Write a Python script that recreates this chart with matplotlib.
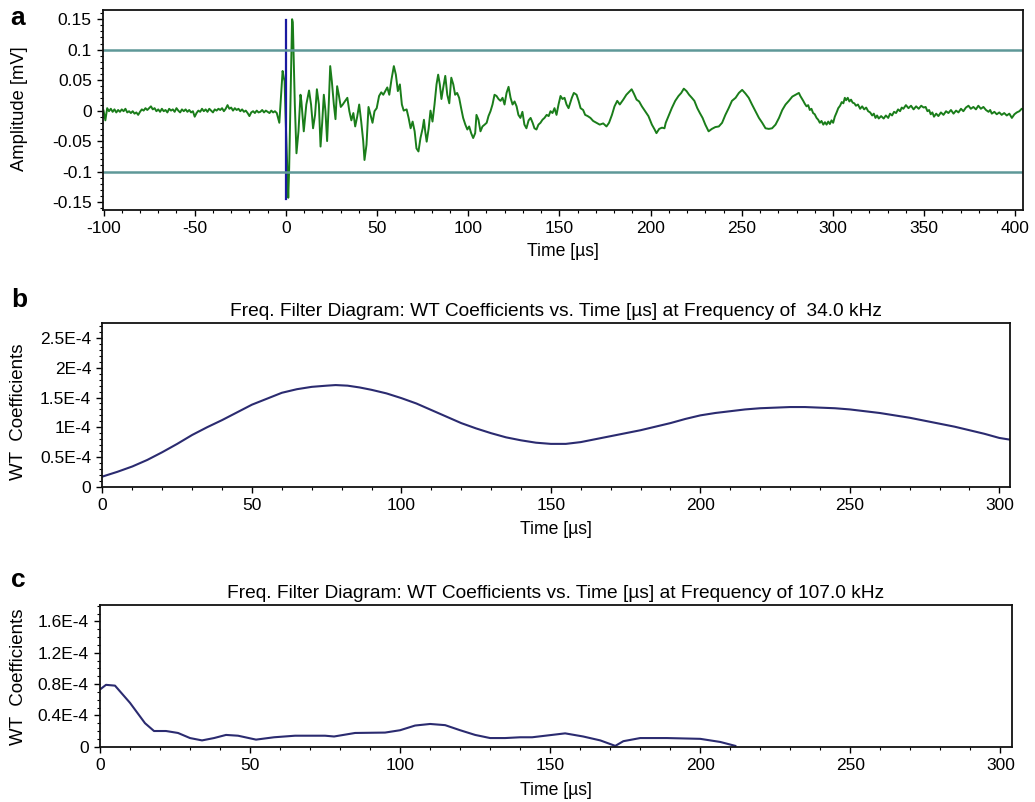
import matplotlib
matplotlib.use('Agg')
import matplotlib.pyplot as plt
from matplotlib.ticker import MultipleLocator, FixedLocator

plt.rcParams['font.family'] = ['Liberation Sans', 'DejaVu Sans']
plt.rcParams['axes.unicode_minus'] = False  # reference uses plain hyphens

# panel a - raw waveform (time in us, amplitude in mV), read off in three stretches
# pre-trigger noise
pre_t = [-100, -99, -98, -97, -96, -95, -94, -93, -92, -91, -90, -89, -88, -87, -86, -85, -84, -83,
         -82, -81, -80, -79, -78, -77, -76, -75, -74, -73, -72, -71, -70, -69, -68, -67, -66, -65,
         -64, -63, -62, -61, -60, -59, -58, -57, -56, -55, -54, -53, -52, -51, -50, -49, -48, -47,
         -46, -45, -44, -43, -42, -41, -40, -39, -38, -37, -36, -35, -34, -33, -32, -31, -30, -29,
         -28, -27, -26, -25, -24, -23, -22, -21, -20, -19, -18, -17, -16, -15, -14, -13, -12, -11,
         -10, -9, -8, -7, -6, -5]
pre_v = [0.0, -0.016, 0.004, -0.001, 0.003, -0.002, 0.002, -0.003, 0.001, -0.002, 0.002, -0.001,
         0.003, -0.003, -0.001, -0.004, -0.001, -0.005, -0.003, -0.007, -0.002, 0.002, 0.0, 0.004,
         0.001, 0.004, 0.007, 0.002, 0.004, -0.001, 0.002, -0.002, 0.003, -0.001, 0.001, -0.003,
         0.003, 0.0, 0.002, -0.002, 0.004, 0.0, -0.003, 0.002, -0.001, 0.002, -0.002, 0.001, -0.003,
         -0.001, -0.01, -0.004, 0.0, -0.002, 0.003, -0.001, 0.002, -0.002, 0.003, 0.0, -0.003, 0.002,
         0.0, 0.003, 0.001, 0.004, -0.001, 0.003, 0.009, 0.003, 0.005, 0.0, 0.004, 0.001, 0.003,
         -0.001, 0.002, -0.002, 0.0, -0.004, -0.009, -0.003, -0.001, -0.004, 0.0, -0.003, -0.002,
         0.001, -0.003, 0.0, -0.002, -0.004, 0.0, -0.003, -0.001, -0.004]
# burst and ringing
burst_t = [-3.6, -1.8, -1.2, -0.7, -0.2, 0.7, 1.3, 1.8, 2.5, 3.4, 3.8, 4.9, 5.8, 6.9, 8.0, 8.5, 9.8,
           11.2, 12.7, 13.8, 14.9, 16.0, 17.0, 18.1, 19.0, 19.9, 20.8, 21.7, 22.6, 23.5, 24.3, 25.2,
           26.3, 27.2, 28.1, 29.0, 30.1, 31.2, 32.3, 33.7, 34.8, 35.9, 37.0, 38.0, 39.1, 40.2, 41.3,
           42.4, 43.1, 44.2, 45.3, 46.4, 47.5, 48.6, 49.8, 51.1, 52.3, 53.4, 54.5, 55.6, 56.7, 57.9,
           59.2, 60.3, 61.4, 62.5, 63.6, 64.6, 66.2, 67.3, 68.4, 69.5, 70.6, 71.6, 72.7, 73.8, 75.0,
           75.7, 76.4, 77.2, 78.3, 79.3, 80.4, 81.5, 82.6, 83.5, 84.4, 85.3, 86.3, 87.4, 88.5, 89.6,
           90.7, 91.8, 92.8, 93.9, 95.0, 96.1, 97.2, 98.4, 99.5, 100.5, 101.6, 102.7, 103.8, 104.5,
           105.6, 106.7, 107.8, 109.0, 110.1, 111.1, 112.2, 113.3, 114.4, 115.5, 116.6, 117.7, 118.8,
           119.9, 121.0, 122.1, 123.2, 124.3, 125.4, 126.5, 127.5, 128.6, 129.7, 130.8, 131.9, 133.1,
           134.2, 135.3, 136.3, 137.4, 138.5, 139.6, 140.7, 141.8, 143.0, 144.1, 145.1, 146.2, 147.3,
           148.4, 149.5, 150.6, 151.7, 152.8, 153.9, 155.0, 156.8, 157.9, 159.4, 160.5, 161.6, 163.0,
           164.1, 165.5, 167.0, 168.5, 170.3, 172.1, 174.0, 175.8, 177.2, 178.8, 180.2, 181.7, 183.1,
           185.0, 186.7, 188.6, 189.6, 190.8, 192.3, 193.7, 195.2, 197.0, 198.8, 200.7, 202.2, 203.2,
           204.7, 206.2, 207.6, 208.3, 209.8, 211.6, 213.5, 215.3, 216.8, 218.2, 219.7, 221.1, 222.6,
           224.0, 225.6, 227.0, 228.5, 230.0, 231.8, 233.6, 235.5, 237.4, 239.2, 241.0, 242.8, 244.6,
           246.6, 248.4, 250.2, 252.0, 253.8, 255.6, 257.5, 259.4, 261.2, 263.0, 264.8, 266.6, 268.5,
           270.4, 272.2, 274.0, 275.8, 277.7, 279.5, 281.3, 282.1]
burst_v = [-0.02, 0.065, 0.055, 0.048, -0.007, -0.089, -0.143, -0.094, 0.01, 0.15, 0.145, 0.01, -0.07,
           -0.034, 0.026, 0.015, -0.034, 0.01, 0.033, 0.01, -0.029, -0.007, 0.035, 0.01, -0.059, -0.02,
           0.026, -0.001, -0.05, 0.01, 0.073, 0.048, 0.01, -0.014, 0.04, 0.026, 0.006, 0.01, 0.015,
           0.021, -0.001, -0.016, -0.004, -0.026, -0.01, 0.01, -0.018, -0.05, -0.081, -0.056, 0.006,
           -0.007, -0.02, -0.001, 0.004, 0.024, 0.03, 0.026, 0.032, 0.038, 0.026, 0.051, 0.073, 0.059,
           0.032, 0.043, 0.01, 0.0, 0.002, -0.012, -0.029, -0.018, -0.034, -0.062, -0.067, -0.045,
           -0.029, -0.015, -0.034, -0.051, -0.029, 0.0, -0.018, 0.01, 0.043, 0.059, 0.043, 0.019, 0.038,
           0.057, 0.026, 0.012, 0.054, 0.043, 0.026, 0.029, 0.021, 0.004, -0.012, -0.023, -0.031,
           -0.026, -0.037, -0.045, -0.037, -0.007, -0.015, -0.034, -0.026, -0.023, -0.02, -0.009,
           -0.001, 0.01, 0.026, 0.024, 0.019, 0.016, 0.021, 0.01, 0.029, 0.039, 0.021, 0.01, 0.015,
           0.007, -0.007, -0.012, -0.002, -0.023, -0.029, -0.016, -0.012, -0.02, -0.029, -0.031,
           -0.023, -0.02, -0.015, -0.012, -0.007, -0.009, -0.001, -0.004, 0.004, -0.007, 0.01, 0.024,
           0.019, 0.021, 0.01, 0.004, 0.021, 0.029, 0.026, 0.016, 0.004, 0.001, -0.007, -0.009, -0.012,
           -0.017, -0.02, -0.023, -0.021, -0.026, -0.02, -0.007, 0.007, 0.016, 0.01, 0.018, 0.026,
           0.032, 0.035, 0.028, 0.018, 0.015, 0.007, -0.001, -0.009, -0.023, -0.031, -0.037, -0.03,
           -0.028, -0.029, -0.02, -0.009, 0.004, 0.016, 0.024, 0.029, 0.036, 0.032, 0.026, 0.021, 0.016,
           0.004, -0.004, -0.012, -0.023, -0.034, -0.03, -0.027, -0.026, -0.02, -0.007, 0.004, 0.016,
           0.021, 0.029, 0.034, 0.028, 0.021, 0.01, -0.001, -0.012, -0.02, -0.029, -0.03, -0.029,
           -0.023, -0.012, 0.001, 0.01, 0.016, 0.023, 0.026, 0.029, 0.024]
# decaying tail
tail_t = [283.7, 284.6, 285.5, 286.4, 287.3, 288.2, 289.1, 290.0, 291.0, 291.9, 292.8, 293.7, 294.7,
          295.6, 296.5, 297.4, 298.3, 299.2, 300.1, 301.0, 302.0, 302.9, 303.9, 304.8, 305.7, 306.5,
          307.2, 308.1, 309.0, 309.9, 310.8, 311.7, 312.6, 313.7, 314.9, 316.0, 317.1, 318.2, 319.3,
          320.4, 321.5, 322.4, 323.3, 324.2, 325.1, 326.4, 327.8, 329.0, 330.3, 331.3, 332.4, 333.5,
          334.6, 335.7, 336.8, 337.7, 338.6, 340.0, 341.4, 342.8, 344.2, 345.6, 347.0, 348.4, 349.7,
          350.8, 351.8, 352.7, 353.6, 354.5, 355.4, 356.6, 357.8, 359.2, 360.6, 362.0, 363.3, 364.7,
          366.1, 367.5, 368.8, 370.2, 371.5, 372.9, 374.3, 375.6, 377.0, 378.4, 379.7, 381.1, 382.5,
          383.9, 385.3, 386.2, 387.1, 388.5, 389.8, 391.2, 392.5, 393.9, 395.3, 396.7, 398.1, 399.5,
          400.8, 402.2, 403.5, 404.2]
tail_v = [0.016, 0.011, 0.007, 0.009, 0.001, 0.003, -0.004, -0.006, -0.012, -0.015, -0.02, -0.017,
          -0.023, -0.019, -0.023, -0.018, -0.022, -0.016, -0.02, -0.01, -0.003, 0.004, 0.008, 0.014,
          0.012, 0.021, 0.017, 0.021, 0.015, 0.018, 0.013, 0.012, 0.008, 0.01, 0.003, 0.007, 0.002,
          0.005, -0.001, -0.003, -0.008, -0.005, -0.012, -0.008, -0.013, -0.009, -0.013, -0.008,
          -0.012, -0.005, -0.008, -0.002, -0.004, 0.002, -0.001, 0.005, 0.003, 0.009, 0.004, 0.008,
          0.002, 0.007, 0.003, 0.008, 0.005, 0.006, -0.001, 0.001, -0.006, -0.003, -0.01, -0.005,
          -0.009, -0.003, -0.007, -0.001, -0.004, 0.001, -0.005, 0.0, -0.003, 0.003, -0.001, 0.005,
          0.008, 0.003, 0.006, 0.002, 0.008, 0.003, 0.006, 0.001, -0.002, 0.001, -0.005, -0.002,
          -0.006, -0.003, -0.007, -0.004, -0.008, -0.005, -0.012, -0.006, -0.003, -0.001, 0.003, 0.002]
trigger_t = [0, 0]
trigger_v = [-0.145, 0.148]
threshold = 0.1
a_yticks = [-0.15, -0.1, -0.05, 0, 0.05, 0.1, 0.15]
a_ylabels = ['-0.15', '-0.1', '-0.05', '0', '0.05', '0.1', '0.15']

# panel b - WT coefficients at 34.0 kHz
b_t = [0, 5, 10, 15, 20, 25, 30, 35, 40, 45, 50, 55, 60, 65, 70, 75, 78, 82, 86, 90, 95, 100, 105,
       110, 115, 120, 125, 130, 135, 140, 145, 150, 155, 160, 165, 170, 175, 180, 185, 190, 195, 200,
       205, 210, 215, 220, 225, 230, 235, 240, 245, 250, 255, 260, 265, 270, 275, 280, 285, 290,
       295, 300, 303.7]
b_wt = [0.17e-4, 0.25e-4, 0.34e-4, 0.45e-4, 0.58e-4, 0.72e-4, 0.87e-4, 1.0e-4, 1.12e-4, 1.25e-4,
        1.38e-4, 1.48e-4, 1.58e-4, 1.64e-4, 1.68e-4, 1.70e-4, 1.71e-4, 1.70e-4, 1.67e-4, 1.63e-4,
        1.57e-4, 1.49e-4, 1.40e-4, 1.29e-4, 1.18e-4, 1.07e-4, 0.98e-4, 0.90e-4, 0.83e-4, 0.78e-4,
        0.74e-4, 0.72e-4, 0.72e-4, 0.75e-4, 0.80e-4, 0.85e-4, 0.90e-4, 0.95e-4, 1.01e-4, 1.07e-4,
        1.14e-4, 1.20e-4, 1.24e-4, 1.27e-4, 1.30e-4, 1.32e-4, 1.33e-4, 1.34e-4, 1.34e-4, 1.33e-4,
        1.32e-4, 1.30e-4, 1.27e-4, 1.24e-4, 1.20e-4, 1.16e-4, 1.11e-4, 1.06e-4, 1.01e-4, 0.95e-4,
        0.89e-4, 0.82e-4, 0.79e-4]
b_yticks = [0, 0.5e-4, 1e-4, 1.5e-4, 2e-4, 2.5e-4]
b_ylabels = ['0', '0.5E-4', '1E-4', '1.5E-4', '2E-4', '2.5E-4']

# panel c - WT coefficients at 107.0 kHz
c_t = [0, 2, 5, 10, 15, 18, 22, 26, 30, 34, 38, 42, 46, 52, 58, 65, 75, 78, 85, 95, 100, 105, 110,
       115, 120, 125, 130, 135, 140, 144, 155, 161, 166.7, 171.7, 174.4, 180, 188.9, 200, 206.7, 211.7]
c_wt = [0.73e-4, 0.79e-4, 0.78e-4, 0.56e-4, 0.30e-4, 0.20e-4, 0.20e-4, 0.175e-4, 0.11e-4, 0.08e-4,
        0.11e-4, 0.15e-4, 0.14e-4, 0.09e-4, 0.12e-4, 0.14e-4, 0.14e-4, 0.13e-4, 0.175e-4, 0.18e-4,
        0.21e-4, 0.27e-4, 0.29e-4, 0.275e-4, 0.21e-4, 0.15e-4, 0.11e-4, 0.11e-4, 0.12e-4, 0.12e-4,
        0.17e-4, 0.13e-4, 0.08e-4, 0.01e-4, 0.07e-4, 0.11e-4, 0.11e-4, 0.10e-4, 0.06e-4, 0.01e-4]
c_yticks = [0, 0.4e-4, 0.8e-4, 1.2e-4, 1.6e-4]
c_ylabels = ['0', '0.4E-4', '0.8E-4', '1.2E-4', '1.6E-4']

title_b = 'Freq. Filter Diagram: WT Coefficients vs. Time [\u00b5s] at Frequency of  34.0 kHz'
title_c = 'Freq. Filter Diagram: WT Coefficients vs. Time [\u00b5s] at Frequency of 107.0 kHz'

green = '#1a7d1a'
teal = '#5e9898'
navy = '#2b2b70'
TICK_FS = 12.5


def style_axes(ax):
    ax.tick_params(which='major', direction='out', length=4, width=1, labelsize=TICK_FS, pad=4)
    ax.tick_params(which='minor', direction='out', length=2.5, width=0.8)
    for s in ax.spines.values():
        s.set_linewidth(1.3)
        s.set_color('#111111')


fig = plt.figure(figsize=(10.35, 8.02), dpi=100)

# a
ax = fig.add_axes([0.0995, 0.7382, 0.8889, 0.2493])
ax.plot(pre_t + burst_t + tail_t, pre_v + burst_v + tail_v, color=green, lw=1.4)
ax.plot(trigger_t, trigger_v, color='#1a1aa0', lw=1.6)
ax.axhline(threshold, color=teal, lw=1.8)
ax.axhline(-threshold, color=teal, lw=1.8)
ax.set_xlim(-100.3, 404.2)
ax.set_ylim(-0.163, 0.165)
ax.xaxis.set_major_locator(MultipleLocator(50))
ax.xaxis.set_minor_locator(MultipleLocator(10))
ax.yaxis.set_major_locator(FixedLocator(a_yticks))
ax.set_yticklabels(a_ylabels)
ax.yaxis.set_minor_locator(MultipleLocator(0.01))
style_axes(ax)
ax.set_xlabel('Time [\u00b5s]', fontsize=12.7, labelpad=5)
fig.text(0.019, 0.865, 'Amplitude [mV]', rotation=90, fontsize=13.2, ha='center', va='center')
fig.text(0.017, 0.978, 'a', fontsize=19, fontweight='bold', ha='center', va='center')

# b
ax = fig.add_axes([0.0990, 0.3932, 0.8772, 0.2037])
ax.plot(b_t, b_wt, color=navy, lw=1.5)
ax.set_xlim(0, 303.7)
ax.set_ylim(0, 2.75e-4)
ax.xaxis.set_major_locator(MultipleLocator(50))
ax.xaxis.set_minor_locator(MultipleLocator(10))
ax.yaxis.set_major_locator(FixedLocator(b_yticks))
ax.set_yticklabels(b_ylabels)
ax.yaxis.set_minor_locator(MultipleLocator(0.1e-4))
style_axes(ax)
ax.set_title(title_b, fontsize=13.8, pad=5)
ax.set_xlabel('Time [\u00b5s]', fontsize=12.7, labelpad=6)
fig.text(0.018, 0.486, 'WT  Coefficients', rotation=90, fontsize=13.5, ha='center', va='center')
fig.text(0.019, 0.626, 'b', fontsize=19, fontweight='bold', ha='center', va='center')

# c
ax = fig.add_axes([0.0966, 0.0690, 0.8812, 0.1766])
ax.plot(c_t, c_wt, color=navy, lw=1.5)
ax.set_xlim(0, 303.9)
ax.set_ylim(0, 1.81e-4)
ax.xaxis.set_major_locator(MultipleLocator(50))
ax.xaxis.set_minor_locator(MultipleLocator(10))
ax.yaxis.set_major_locator(FixedLocator(c_yticks))
ax.set_yticklabels(c_ylabels)
ax.yaxis.set_minor_locator(MultipleLocator(0.1e-4))
style_axes(ax)
ax.set_title(title_c, fontsize=13.8, pad=5)
ax.set_xlabel('Time [\u00b5s]', fontsize=12.7, labelpad=7)
fig.text(0.018, 0.156, 'WT  Coefficients', rotation=90, fontsize=13.5, ha='center', va='center')
fig.text(0.018, 0.277, 'c', fontsize=19, fontweight='bold', ha='center', va='center')

plt.savefig('out.png', dpi=100)
plt.close()
